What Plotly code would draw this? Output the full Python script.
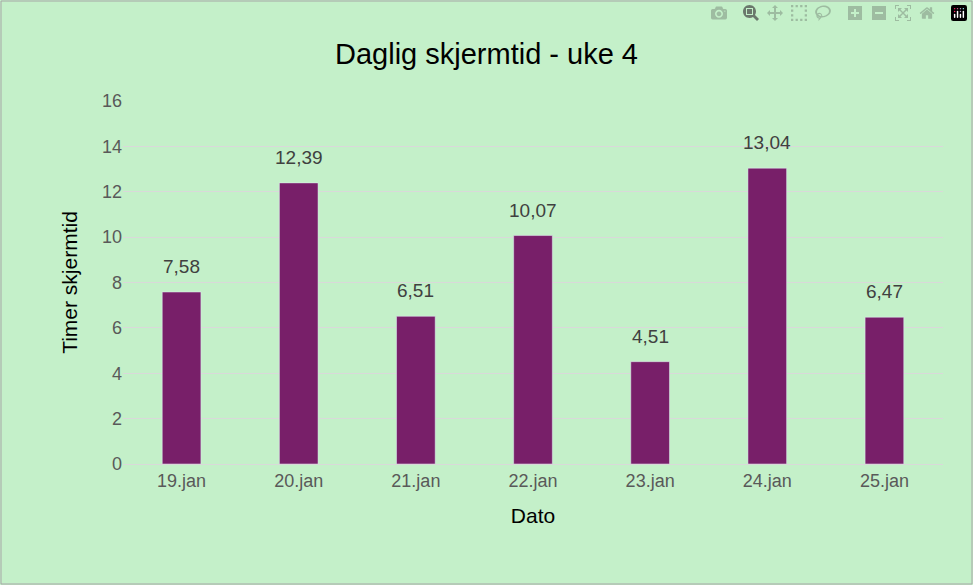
import plotly.graph_objects as go

dates = ["19.jan", "20.jan", "21.jan", "22.jan", "23.jan", "24.jan", "25.jan"]
hours = [7.58, 12.39, 6.51, 10.07, 4.51, 13.04, 6.47]
labels = [f"{v:.2f}".replace(".", ",") for v in hours]

W, H = 973, 585
L, R, T, B = 123, 30, 101, 121
pw, ph = W - L - R, H - T - B

fig = go.Figure(go.Bar(
    x=dates, y=hours, marker_color="#781F69",
))
annotations = [dict(x=d, y=v, text=t, showarrow=False, yanchor="bottom", yshift=13,
                    font=dict(size=19, color="#404040")) for d, v, t in zip(dates, hours, labels)]
fig.update_layout(
    width=W, height=H, margin=dict(l=L, r=R, t=T, b=B),
    paper_bgcolor="#C4F0C9", plot_bgcolor="#C4F0C9",
    font=dict(family="Liberation Sans, Arial", color="#595959"),
    title=dict(text="Daglig skjermtid - uke 4", x=0.5, xanchor="center", y=0.925,
               font=dict(size=29, color="#000000")),
    bargap=0.67, showlegend=False, annotations=annotations,
    xaxis=dict(title=dict(text="Dato", font=dict(size=21, color="#000000"), standoff=18),
               tickfont=dict(size=18, color="#595959"), showline=True, linecolor="#D9D9D9",
               ticks=""),
    yaxis=dict(title=dict(text="Timer skjermtid", font=dict(size=21, color="#000000"), standoff=18),
               range=[0, 16], dtick=2, tickfont=dict(size=18, color="#595959"),
               gridcolor="#D9D9D9", zeroline=False, ticks=""),
    shapes=[dict(type="rect", xref="paper", yref="paper",
                 x0=(-L + 1) / pw, x1=(pw + R - 1) / pw,
                 y0=(-B + 1) / ph, y1=(ph + T - 1) / ph,
                 line=dict(color="#A6A6A6", width=1))],
)
fig.write_html("out.html", post_script="document.body.style.margin='0';document.body.style.overflow='hidden';")
